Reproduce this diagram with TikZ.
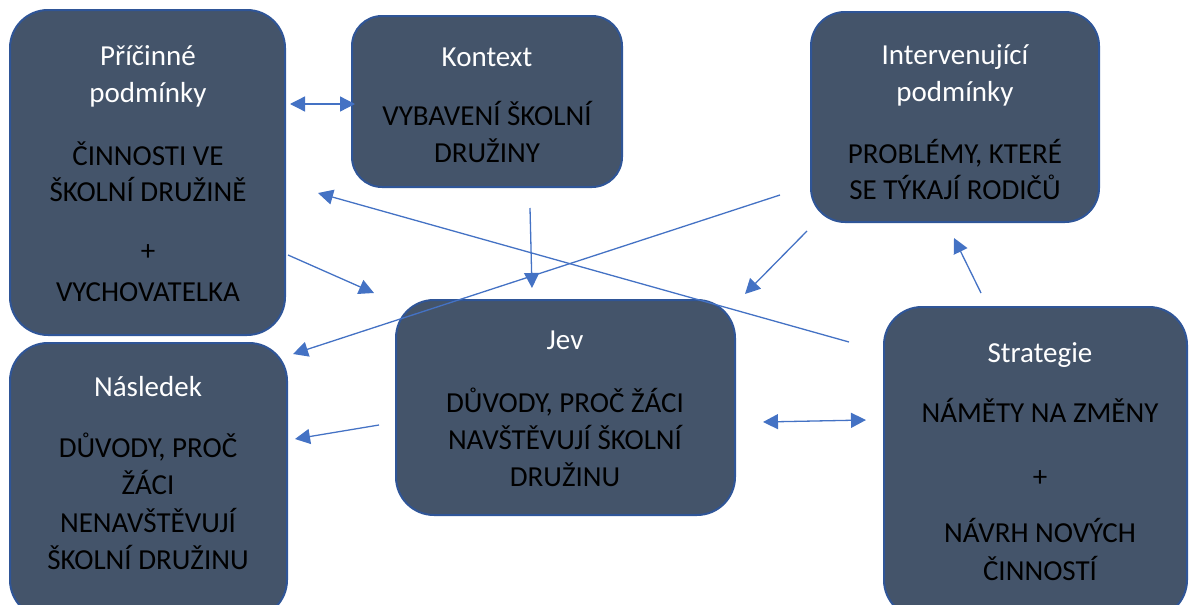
\documentclass[tikz,border=0pt]{standalone}
\usepackage{fontspec}
\setmainfont{Carlito}
\usetikzlibrary{arrows.meta}
\definecolor{boxfill}{HTML}{44546A}
\definecolor{boxline}{HTML}{2F5597}
\definecolor{arr}{HTML}{4472C4}
\tikzset{
  box/.style={draw=boxline, line width=2pt, fill=boxfill, rounded corners=38pt},
  tw/.style={anchor=base, inner sep=0pt, text=white, font=\fontsize{29}{34}\selectfont},
  tb/.style={anchor=base, inner sep=0pt, text=black, font=\fontsize{29}{34}\selectfont},
  con/.style={draw=arr, line width=1.3pt, -{Triangle[length=15pt,width=15pt]}},
  dcon/.style={draw=arr, line width=1.3pt, {Triangle[length=15pt,width=15pt]}-{Triangle[length=15pt,width=15pt]}},
}
\begin{document}
\begin{tikzpicture}[x=1pt,y=-1pt]
\useasboundingbox (0,0) rectangle (1189,605);
\clip (0,0) rectangle (1189,605);
% boxes
\draw[box] (10,10) rectangle (285,335);
\draw[box, rounded corners=30pt] (352,16) rectangle (622,187);
\draw[box, rounded corners=34pt] (811,12) rectangle (1099,222);
\draw[box] (10,343) rectangle (287,618);
\draw[box] (396,300) rectangle (735,515);
\draw[box] (884,307) rectangle (1187,618);
% Příčinné podmínky
\node[tw] (p1) at (148,65) {Příčinné};
\node[tw] (p2) at (148,102) {podmínky};
\node[tb] (p3) at (148,165) {ČINNOSTI VE};
\node[tb] (p4) at (148,201) {ŠKOLNÍ DRUŽINĚ};
\node[tb] (p5) at (148,260) {+};
\node[tb] (p6) at (148,301) {VYCHOVATELKA};
% Kontext
\node[tw] (k1) at (487,66) {Kontext};
\node[tb] (k2) at (487,125) {VYBAVENÍ ŠKOLNÍ};
\node[tb] (k3) at (487,162) {DRUŽINY};
% Intervenující podmínky
\node[tw] (i1) at (955,64) {Intervenující};
\node[tw] (i2) at (955,101) {podmínky};
\node[tb] (i3) at (955,163) {PROBLÉMY, KTERÉ};
\node[tb] (i4) at (955,199) {SE TÝKAJÍ RODIČŮ};
% Následek
\node[tw] (n1) at (148,396) {Následek};
\node[tb] (n2) at (148,457) {DŮVODY, PROČ};
\node[tb] (n3) at (148,494) {ŽÁCI};
\node[tb] (n4) at (148,532) {NENAVŠTĚVUJÍ};
\node[tb] (n5) at (148,569) {ŠKOLNÍ DRUŽINU};
% Jev
\node[tw] (j1) at (565,349) {Jev};
\node[tb] (j2) at (565,412) {DŮVODY, PROČ ŽÁCI};
\node[tb] (j3) at (565,449) {NAVŠTĚVUJÍ ŠKOLNÍ};
\node[tb] (j4) at (565,486) {DRUŽINU};
% Strategie
\node[tw] (s1) at (1040,362) {Strategie};
\node[tb] (s2) at (1040,422) {NÁMĚTY NA ZMĚNY};
\node[tb] (s3) at (1040,486) {+};
\node[tb] (s4) at (1040,542) {NÁVRH NOVÝCH};
\node[tb] (s5) at (1040,580) {ČINNOSTÍ};
% connector end points
\coordinate (a1s) at (290,104); \coordinate (a1e) at (355,104);
\coordinate (a2s) at (288,255); \coordinate (a2e) at (374,293);
\coordinate (a3s) at (530,208); \coordinate (a3e) at (532,288);
\coordinate (a4s) at (849,342); \coordinate (a4e) at (318,193);
\coordinate (a5s) at (780,195); \coordinate (a5e) at (293,354);
\coordinate (a6s) at (807,231); \coordinate (a6e) at (745,294);
\coordinate (a7s) at (981,293); \coordinate (a7e) at (954,238);
\coordinate (a8s) at (379,425); \coordinate (a8e) at (295,439);
\coordinate (a9s) at (763,422); \coordinate (a9e) at (866,420);
% connectors
\draw[dcon] (a1s) -- (a1e);
\draw[con] (a2s) -- (a2e);
\draw[con] (a3s) -- (a3e);
\draw[con] (a4s) -- (a4e);
\draw[con] (a5s) -- (a5e);
\draw[con] (a6s) -- (a6e);
\draw[con] (a7s) -- (a7e);
\draw[con] (a8s) -- (a8e);
\draw[dcon] (a9s) -- (a9e);
\end{tikzpicture}
\end{document}
